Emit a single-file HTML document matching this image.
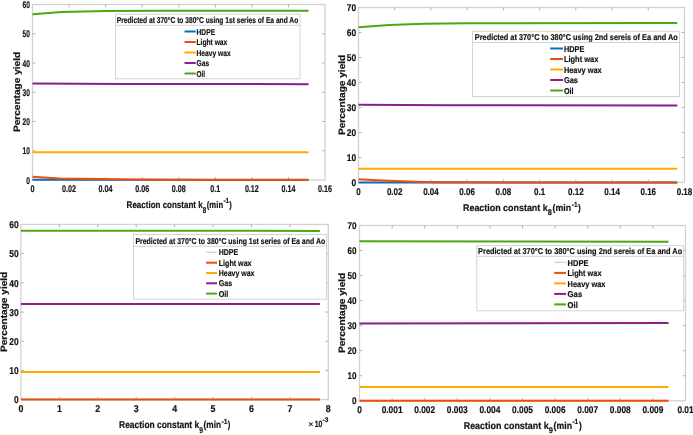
<!DOCTYPE html>
<html><head><meta charset="utf-8"><style>
html,body{margin:0;padding:0;background:#fff;}
svg{display:block;font-family:"Liberation Sans", sans-serif;will-change:transform;}
text{stroke:#141414;stroke-width:0.2px;text-rendering:geometricPrecision;}
#wrap{width:693px;height:435px;overflow:hidden;}
</style></head><body><div id="wrap">
<svg width="693" height="435" viewBox="0 0 693 435" shape-rendering="auto">
<rect width="693" height="435" fill="#fff"/>
<g>
<rect width="693" height="435" fill="#fff"/>
<rect x="32.50" y="4.50" width="292.50" height="175.50" fill="#fff" stroke="#d2d2d2" stroke-width="1.3"/>
<text x="30.00" y="183.60" font-size="9.8" font-weight="bold" fill="#141414" text-anchor="end" textLength="3.70" lengthAdjust="spacingAndGlyphs">0</text>
<line x1="32.50" y1="150.75" x2="35.50" y2="150.75" stroke="#b4b4b4" stroke-width="1"/>
<line x1="325.00" y1="150.75" x2="322.00" y2="150.75" stroke="#b4b4b4" stroke-width="1"/>
<text x="30.00" y="154.35" font-size="9.8" font-weight="bold" fill="#141414" text-anchor="end" textLength="7.40" lengthAdjust="spacingAndGlyphs">10</text>
<line x1="32.50" y1="121.50" x2="35.50" y2="121.50" stroke="#b4b4b4" stroke-width="1"/>
<line x1="325.00" y1="121.50" x2="322.00" y2="121.50" stroke="#b4b4b4" stroke-width="1"/>
<text x="30.00" y="125.10" font-size="9.8" font-weight="bold" fill="#141414" text-anchor="end" textLength="7.40" lengthAdjust="spacingAndGlyphs">20</text>
<line x1="32.50" y1="92.25" x2="35.50" y2="92.25" stroke="#b4b4b4" stroke-width="1"/>
<line x1="325.00" y1="92.25" x2="322.00" y2="92.25" stroke="#b4b4b4" stroke-width="1"/>
<text x="30.00" y="95.85" font-size="9.8" font-weight="bold" fill="#141414" text-anchor="end" textLength="7.40" lengthAdjust="spacingAndGlyphs">30</text>
<line x1="32.50" y1="63.00" x2="35.50" y2="63.00" stroke="#b4b4b4" stroke-width="1"/>
<line x1="325.00" y1="63.00" x2="322.00" y2="63.00" stroke="#b4b4b4" stroke-width="1"/>
<text x="30.00" y="66.60" font-size="9.8" font-weight="bold" fill="#141414" text-anchor="end" textLength="7.40" lengthAdjust="spacingAndGlyphs">40</text>
<line x1="32.50" y1="33.75" x2="35.50" y2="33.75" stroke="#b4b4b4" stroke-width="1"/>
<line x1="325.00" y1="33.75" x2="322.00" y2="33.75" stroke="#b4b4b4" stroke-width="1"/>
<text x="30.00" y="37.35" font-size="9.8" font-weight="bold" fill="#141414" text-anchor="end" textLength="7.40" lengthAdjust="spacingAndGlyphs">50</text>
<text x="30.00" y="8.10" font-size="9.8" font-weight="bold" fill="#141414" text-anchor="end" textLength="7.40" lengthAdjust="spacingAndGlyphs">60</text>
<text x="30.50" y="192.20" font-size="9.8" font-weight="bold" fill="#141414" textLength="4.00" lengthAdjust="spacingAndGlyphs">0</text>
<line x1="69.06" y1="180.00" x2="69.06" y2="177.00" stroke="#b4b4b4" stroke-width="1"/>
<line x1="69.06" y1="4.50" x2="69.06" y2="7.50" stroke="#b4b4b4" stroke-width="1"/>
<text x="62.06" y="192.20" font-size="9.8" font-weight="bold" fill="#141414" textLength="14.00" lengthAdjust="spacingAndGlyphs">0.02</text>
<line x1="105.62" y1="180.00" x2="105.62" y2="177.00" stroke="#b4b4b4" stroke-width="1"/>
<line x1="105.62" y1="4.50" x2="105.62" y2="7.50" stroke="#b4b4b4" stroke-width="1"/>
<text x="98.62" y="192.20" font-size="9.8" font-weight="bold" fill="#141414" textLength="14.00" lengthAdjust="spacingAndGlyphs">0.04</text>
<line x1="142.19" y1="180.00" x2="142.19" y2="177.00" stroke="#b4b4b4" stroke-width="1"/>
<line x1="142.19" y1="4.50" x2="142.19" y2="7.50" stroke="#b4b4b4" stroke-width="1"/>
<text x="135.19" y="192.20" font-size="9.8" font-weight="bold" fill="#141414" textLength="14.00" lengthAdjust="spacingAndGlyphs">0.06</text>
<line x1="178.75" y1="180.00" x2="178.75" y2="177.00" stroke="#b4b4b4" stroke-width="1"/>
<line x1="178.75" y1="4.50" x2="178.75" y2="7.50" stroke="#b4b4b4" stroke-width="1"/>
<text x="171.75" y="192.20" font-size="9.8" font-weight="bold" fill="#141414" textLength="14.00" lengthAdjust="spacingAndGlyphs">0.08</text>
<line x1="215.31" y1="180.00" x2="215.31" y2="177.00" stroke="#b4b4b4" stroke-width="1"/>
<line x1="215.31" y1="4.50" x2="215.31" y2="7.50" stroke="#b4b4b4" stroke-width="1"/>
<text x="210.31" y="192.20" font-size="9.8" font-weight="bold" fill="#141414" textLength="10.00" lengthAdjust="spacingAndGlyphs">0.1</text>
<line x1="251.88" y1="180.00" x2="251.88" y2="177.00" stroke="#b4b4b4" stroke-width="1"/>
<line x1="251.88" y1="4.50" x2="251.88" y2="7.50" stroke="#b4b4b4" stroke-width="1"/>
<text x="244.88" y="192.20" font-size="9.8" font-weight="bold" fill="#141414" textLength="14.00" lengthAdjust="spacingAndGlyphs">0.12</text>
<line x1="288.44" y1="180.00" x2="288.44" y2="177.00" stroke="#b4b4b4" stroke-width="1"/>
<line x1="288.44" y1="4.50" x2="288.44" y2="7.50" stroke="#b4b4b4" stroke-width="1"/>
<text x="281.44" y="192.20" font-size="9.8" font-weight="bold" fill="#141414" textLength="14.00" lengthAdjust="spacingAndGlyphs">0.14</text>
<text x="318.00" y="192.20" font-size="9.8" font-weight="bold" fill="#141414" textLength="14.00" lengthAdjust="spacingAndGlyphs">0.16</text>
<polyline points="32.50,179.85 308.55,179.85" fill="none" stroke="#0070c0" stroke-width="2" stroke-linejoin="round"/>
<polyline points="32.50,176.78 59.92,178.48 100.14,179.12 129.39,179.56 160.47,179.80 215.31,179.91 308.55,179.94" fill="none" stroke="#f04c0a" stroke-width="2" stroke-linejoin="round"/>
<polyline points="32.50,152.30 308.55,152.30" fill="none" stroke="#ffaa00" stroke-width="2" stroke-linejoin="round"/>
<polyline points="32.50,83.47 123.91,83.91 308.55,84.21" fill="none" stroke="#8c1e8c" stroke-width="2" stroke-linejoin="round"/>
<polyline points="32.50,14.30 61.75,12.11 105.62,11.08 160.47,10.79 308.55,10.64" fill="none" stroke="#4ea614" stroke-width="2" stroke-linejoin="round"/>
<rect x="115.50" y="14.20" width="184.50" height="64.60" fill="#fff" stroke="#d4d4d4" stroke-width="1"/>
<line x1="115.50" y1="25.30" x2="300.00" y2="25.30" stroke="#d4d4d4" stroke-width="1"/>
<text x="116.80" y="22.90" font-size="8.5" font-weight="bold" fill="#141414" textLength="181.40" lengthAdjust="spacingAndGlyphs">Predicted at 370°C to 380°C using 1st series of Ea and Ao</text>
<line x1="184.50" y1="31.50" x2="195.70" y2="31.50" stroke="#0070c0" stroke-width="2"/>
<text x="196.50" y="34.70" font-size="8.5" font-weight="bold" fill="#141414" textLength="18.60" lengthAdjust="spacingAndGlyphs">HDPE</text>
<line x1="184.50" y1="42.00" x2="195.70" y2="42.00" stroke="#f04c0a" stroke-width="2"/>
<text x="196.50" y="45.20" font-size="8.5" font-weight="bold" fill="#141414" textLength="30.80" lengthAdjust="spacingAndGlyphs">Light wax</text>
<line x1="184.50" y1="52.50" x2="195.70" y2="52.50" stroke="#ffaa00" stroke-width="2"/>
<text x="196.50" y="55.70" font-size="8.5" font-weight="bold" fill="#141414" textLength="34.20" lengthAdjust="spacingAndGlyphs">Heavy wax</text>
<line x1="184.50" y1="63.00" x2="195.70" y2="63.00" stroke="#8c1e8c" stroke-width="2"/>
<text x="196.50" y="66.20" font-size="8.5" font-weight="bold" fill="#141414" textLength="12.60" lengthAdjust="spacingAndGlyphs">Gas</text>
<line x1="184.50" y1="73.50" x2="195.70" y2="73.50" stroke="#4ea614" stroke-width="2"/>
<text x="196.50" y="76.70" font-size="8.5" font-weight="bold" fill="#141414" textLength="8.60" lengthAdjust="spacingAndGlyphs">Oil</text>
<text transform="translate(19.60,132.00) rotate(-90)" x="0" y="0" font-size="9.3" font-weight="bold" fill="#141414" textLength="80.10" lengthAdjust="spacingAndGlyphs">Percentage yield</text>
<text x="126.60" y="207.90" font-size="9.7" font-weight="bold" fill="#141414" textLength="76.10" lengthAdjust="spacingAndGlyphs">Reaction constant k</text>
<text x="202.70" y="212.60" font-size="8.4" font-weight="bold" fill="#141414" textLength="3.50" lengthAdjust="spacingAndGlyphs">8</text>
<text x="206.80" y="207.90" font-size="9.7" font-weight="bold" fill="#141414" textLength="16.30" lengthAdjust="spacingAndGlyphs">(min</text>
<text x="223.40" y="203.10" font-size="7.4" font-weight="bold" fill="#141414" textLength="5.60" lengthAdjust="spacingAndGlyphs">-1</text>
<text x="229.30" y="207.90" font-size="9.7" font-weight="bold" fill="#141414" textLength="2.50" lengthAdjust="spacingAndGlyphs">)</text>
<rect x="358.50" y="7.50" width="326.00" height="175.00" fill="#fff" stroke="#d2d2d2" stroke-width="1.3"/>
<text x="356.20" y="186.10" font-size="9.8" font-weight="bold" fill="#141414" text-anchor="end" textLength="4.70" lengthAdjust="spacingAndGlyphs">0</text>
<line x1="358.50" y1="157.50" x2="361.50" y2="157.50" stroke="#b4b4b4" stroke-width="1"/>
<line x1="684.50" y1="157.50" x2="681.50" y2="157.50" stroke="#b4b4b4" stroke-width="1"/>
<text x="356.20" y="161.10" font-size="9.8" font-weight="bold" fill="#141414" text-anchor="end" textLength="9.40" lengthAdjust="spacingAndGlyphs">10</text>
<line x1="358.50" y1="132.50" x2="361.50" y2="132.50" stroke="#b4b4b4" stroke-width="1"/>
<line x1="684.50" y1="132.50" x2="681.50" y2="132.50" stroke="#b4b4b4" stroke-width="1"/>
<text x="356.20" y="136.10" font-size="9.8" font-weight="bold" fill="#141414" text-anchor="end" textLength="9.40" lengthAdjust="spacingAndGlyphs">20</text>
<line x1="358.50" y1="107.50" x2="361.50" y2="107.50" stroke="#b4b4b4" stroke-width="1"/>
<line x1="684.50" y1="107.50" x2="681.50" y2="107.50" stroke="#b4b4b4" stroke-width="1"/>
<text x="356.20" y="111.10" font-size="9.8" font-weight="bold" fill="#141414" text-anchor="end" textLength="9.40" lengthAdjust="spacingAndGlyphs">30</text>
<line x1="358.50" y1="82.50" x2="361.50" y2="82.50" stroke="#b4b4b4" stroke-width="1"/>
<line x1="684.50" y1="82.50" x2="681.50" y2="82.50" stroke="#b4b4b4" stroke-width="1"/>
<text x="356.20" y="86.10" font-size="9.8" font-weight="bold" fill="#141414" text-anchor="end" textLength="9.40" lengthAdjust="spacingAndGlyphs">40</text>
<line x1="358.50" y1="57.50" x2="361.50" y2="57.50" stroke="#b4b4b4" stroke-width="1"/>
<line x1="684.50" y1="57.50" x2="681.50" y2="57.50" stroke="#b4b4b4" stroke-width="1"/>
<text x="356.20" y="61.10" font-size="9.8" font-weight="bold" fill="#141414" text-anchor="end" textLength="9.40" lengthAdjust="spacingAndGlyphs">50</text>
<line x1="358.50" y1="32.50" x2="361.50" y2="32.50" stroke="#b4b4b4" stroke-width="1"/>
<line x1="684.50" y1="32.50" x2="681.50" y2="32.50" stroke="#b4b4b4" stroke-width="1"/>
<text x="356.20" y="36.10" font-size="9.8" font-weight="bold" fill="#141414" text-anchor="end" textLength="9.40" lengthAdjust="spacingAndGlyphs">60</text>
<text x="356.20" y="11.10" font-size="9.8" font-weight="bold" fill="#141414" text-anchor="end" textLength="9.40" lengthAdjust="spacingAndGlyphs">70</text>
<text x="356.27" y="195.30" font-size="9.8" font-weight="bold" fill="#141414" textLength="4.45" lengthAdjust="spacingAndGlyphs">0</text>
<line x1="394.72" y1="182.50" x2="394.72" y2="179.50" stroke="#b4b4b4" stroke-width="1"/>
<line x1="394.72" y1="7.50" x2="394.72" y2="10.50" stroke="#b4b4b4" stroke-width="1"/>
<text x="386.92" y="195.30" font-size="9.8" font-weight="bold" fill="#141414" textLength="15.60" lengthAdjust="spacingAndGlyphs">0.02</text>
<line x1="430.94" y1="182.50" x2="430.94" y2="179.50" stroke="#b4b4b4" stroke-width="1"/>
<line x1="430.94" y1="7.50" x2="430.94" y2="10.50" stroke="#b4b4b4" stroke-width="1"/>
<text x="423.14" y="195.30" font-size="9.8" font-weight="bold" fill="#141414" textLength="15.60" lengthAdjust="spacingAndGlyphs">0.04</text>
<line x1="467.17" y1="182.50" x2="467.17" y2="179.50" stroke="#b4b4b4" stroke-width="1"/>
<line x1="467.17" y1="7.50" x2="467.17" y2="10.50" stroke="#b4b4b4" stroke-width="1"/>
<text x="459.37" y="195.30" font-size="9.8" font-weight="bold" fill="#141414" textLength="15.60" lengthAdjust="spacingAndGlyphs">0.06</text>
<line x1="503.39" y1="182.50" x2="503.39" y2="179.50" stroke="#b4b4b4" stroke-width="1"/>
<line x1="503.39" y1="7.50" x2="503.39" y2="10.50" stroke="#b4b4b4" stroke-width="1"/>
<text x="495.59" y="195.30" font-size="9.8" font-weight="bold" fill="#141414" textLength="15.60" lengthAdjust="spacingAndGlyphs">0.08</text>
<line x1="539.61" y1="182.50" x2="539.61" y2="179.50" stroke="#b4b4b4" stroke-width="1"/>
<line x1="539.61" y1="7.50" x2="539.61" y2="10.50" stroke="#b4b4b4" stroke-width="1"/>
<text x="534.04" y="195.30" font-size="9.8" font-weight="bold" fill="#141414" textLength="11.15" lengthAdjust="spacingAndGlyphs">0.1</text>
<line x1="575.83" y1="182.50" x2="575.83" y2="179.50" stroke="#b4b4b4" stroke-width="1"/>
<line x1="575.83" y1="7.50" x2="575.83" y2="10.50" stroke="#b4b4b4" stroke-width="1"/>
<text x="568.03" y="195.30" font-size="9.8" font-weight="bold" fill="#141414" textLength="15.60" lengthAdjust="spacingAndGlyphs">0.12</text>
<line x1="612.06" y1="182.50" x2="612.06" y2="179.50" stroke="#b4b4b4" stroke-width="1"/>
<line x1="612.06" y1="7.50" x2="612.06" y2="10.50" stroke="#b4b4b4" stroke-width="1"/>
<text x="604.26" y="195.30" font-size="9.8" font-weight="bold" fill="#141414" textLength="15.60" lengthAdjust="spacingAndGlyphs">0.14</text>
<line x1="648.28" y1="182.50" x2="648.28" y2="179.50" stroke="#b4b4b4" stroke-width="1"/>
<line x1="648.28" y1="7.50" x2="648.28" y2="10.50" stroke="#b4b4b4" stroke-width="1"/>
<text x="640.48" y="195.30" font-size="9.8" font-weight="bold" fill="#141414" textLength="15.60" lengthAdjust="spacingAndGlyphs">0.16</text>
<text x="676.70" y="195.30" font-size="9.8" font-weight="bold" fill="#141414" textLength="15.60" lengthAdjust="spacingAndGlyphs">0.18</text>
<polyline points="358.50,182.38 677.26,182.38" fill="none" stroke="#0070c0" stroke-width="2" stroke-linejoin="round"/>
<polyline points="358.50,179.20 376.61,180.18 394.72,181.10 414.64,181.80 440.00,182.15 467.17,182.30 521.50,182.40 677.26,182.45" fill="none" stroke="#f04c0a" stroke-width="2" stroke-linejoin="round"/>
<polyline points="358.50,168.75 677.26,168.75" fill="none" stroke="#ffaa00" stroke-width="2" stroke-linejoin="round"/>
<polyline points="358.50,104.75 449.06,105.25 677.26,105.55" fill="none" stroke="#8c1e8c" stroke-width="2" stroke-linejoin="round"/>
<polyline points="358.50,27.25 389.29,24.88 423.70,23.75 467.17,23.25 677.26,23.00" fill="none" stroke="#4ea614" stroke-width="2" stroke-linejoin="round"/>
<rect x="472.50" y="31.30" width="207.00" height="65.20" fill="#fff" stroke="#d4d4d4" stroke-width="1"/>
<line x1="472.50" y1="42.50" x2="679.50" y2="42.50" stroke="#d4d4d4" stroke-width="1"/>
<text x="474.80" y="40.30" font-size="8.5" font-weight="bold" fill="#141414" textLength="203.00" lengthAdjust="spacingAndGlyphs">Predicted at 370°C to 380°C using 2nd sereis of Ea and Ao</text>
<line x1="550.20" y1="48.50" x2="563.00" y2="48.50" stroke="#0070c0" stroke-width="2"/>
<text x="563.90" y="51.80" font-size="8.5" font-weight="bold" fill="#141414" textLength="20.40" lengthAdjust="spacingAndGlyphs">HDPE</text>
<line x1="550.20" y1="59.00" x2="563.00" y2="59.00" stroke="#f04c0a" stroke-width="2"/>
<text x="563.90" y="62.30" font-size="8.5" font-weight="bold" fill="#141414" textLength="34.40" lengthAdjust="spacingAndGlyphs">Light wax</text>
<line x1="550.20" y1="69.50" x2="563.00" y2="69.50" stroke="#ffaa00" stroke-width="2"/>
<text x="563.90" y="72.80" font-size="8.5" font-weight="bold" fill="#141414" textLength="37.70" lengthAdjust="spacingAndGlyphs">Heavy wax</text>
<line x1="550.20" y1="80.00" x2="563.00" y2="80.00" stroke="#8c1e8c" stroke-width="2"/>
<text x="563.90" y="83.30" font-size="8.5" font-weight="bold" fill="#141414" textLength="14.10" lengthAdjust="spacingAndGlyphs">Gas</text>
<line x1="550.20" y1="90.50" x2="563.00" y2="90.50" stroke="#4ea614" stroke-width="2"/>
<text x="563.90" y="93.80" font-size="8.5" font-weight="bold" fill="#141414" textLength="9.60" lengthAdjust="spacingAndGlyphs">Oil</text>
<text transform="translate(344.60,135.10) rotate(-90)" x="0" y="0" font-size="9.3" font-weight="bold" fill="#141414" textLength="80.40" lengthAdjust="spacingAndGlyphs">Percentage yield</text>
<text x="463.00" y="210.60" font-size="9.7" font-weight="bold" fill="#141414" textLength="84.70" lengthAdjust="spacingAndGlyphs">Reaction constant k</text>
<text x="547.70" y="215.30" font-size="8.4" font-weight="bold" fill="#141414" textLength="4.10" lengthAdjust="spacingAndGlyphs">8</text>
<text x="552.50" y="210.60" font-size="9.7" font-weight="bold" fill="#141414" textLength="18.50" lengthAdjust="spacingAndGlyphs">(min</text>
<text x="571.80" y="206.80" font-size="7.4" font-weight="bold" fill="#141414" textLength="5.80" lengthAdjust="spacingAndGlyphs">-1</text>
<text x="577.90" y="210.60" font-size="9.7" font-weight="bold" fill="#141414" textLength="2.70" lengthAdjust="spacingAndGlyphs">)</text>
<rect x="20.90" y="224.50" width="307.40" height="175.10" fill="#fff" stroke="#d2d2d2" stroke-width="1.3"/>
<text x="18.60" y="403.30" font-size="10.0" font-weight="bold" fill="#141414" text-anchor="end" textLength="4.70" lengthAdjust="spacingAndGlyphs">0</text>
<line x1="20.90" y1="370.42" x2="23.90" y2="370.42" stroke="#b4b4b4" stroke-width="1"/>
<line x1="328.30" y1="370.42" x2="325.30" y2="370.42" stroke="#b4b4b4" stroke-width="1"/>
<text x="18.60" y="374.12" font-size="10.0" font-weight="bold" fill="#141414" text-anchor="end" textLength="9.40" lengthAdjust="spacingAndGlyphs">10</text>
<line x1="20.90" y1="341.23" x2="23.90" y2="341.23" stroke="#b4b4b4" stroke-width="1"/>
<line x1="328.30" y1="341.23" x2="325.30" y2="341.23" stroke="#b4b4b4" stroke-width="1"/>
<text x="18.60" y="344.93" font-size="10.0" font-weight="bold" fill="#141414" text-anchor="end" textLength="9.40" lengthAdjust="spacingAndGlyphs">20</text>
<line x1="20.90" y1="312.05" x2="23.90" y2="312.05" stroke="#b4b4b4" stroke-width="1"/>
<line x1="328.30" y1="312.05" x2="325.30" y2="312.05" stroke="#b4b4b4" stroke-width="1"/>
<text x="18.60" y="315.75" font-size="10.0" font-weight="bold" fill="#141414" text-anchor="end" textLength="9.40" lengthAdjust="spacingAndGlyphs">30</text>
<line x1="20.90" y1="282.87" x2="23.90" y2="282.87" stroke="#b4b4b4" stroke-width="1"/>
<line x1="328.30" y1="282.87" x2="325.30" y2="282.87" stroke="#b4b4b4" stroke-width="1"/>
<text x="18.60" y="286.57" font-size="10.0" font-weight="bold" fill="#141414" text-anchor="end" textLength="9.40" lengthAdjust="spacingAndGlyphs">40</text>
<line x1="20.90" y1="253.68" x2="23.90" y2="253.68" stroke="#b4b4b4" stroke-width="1"/>
<line x1="328.30" y1="253.68" x2="325.30" y2="253.68" stroke="#b4b4b4" stroke-width="1"/>
<text x="18.60" y="257.38" font-size="10.0" font-weight="bold" fill="#141414" text-anchor="end" textLength="9.40" lengthAdjust="spacingAndGlyphs">50</text>
<text x="18.60" y="228.20" font-size="10.0" font-weight="bold" fill="#141414" text-anchor="end" textLength="9.40" lengthAdjust="spacingAndGlyphs">60</text>
<text x="18.45" y="412.00" font-size="10.0" font-weight="bold" fill="#141414" textLength="4.90" lengthAdjust="spacingAndGlyphs">0</text>
<line x1="59.33" y1="399.60" x2="59.33" y2="396.60" stroke="#b4b4b4" stroke-width="1"/>
<line x1="59.33" y1="224.50" x2="59.33" y2="227.50" stroke="#b4b4b4" stroke-width="1"/>
<text x="56.88" y="412.00" font-size="10.0" font-weight="bold" fill="#141414" textLength="4.90" lengthAdjust="spacingAndGlyphs">1</text>
<line x1="97.75" y1="399.60" x2="97.75" y2="396.60" stroke="#b4b4b4" stroke-width="1"/>
<line x1="97.75" y1="224.50" x2="97.75" y2="227.50" stroke="#b4b4b4" stroke-width="1"/>
<text x="95.30" y="412.00" font-size="10.0" font-weight="bold" fill="#141414" textLength="4.90" lengthAdjust="spacingAndGlyphs">2</text>
<line x1="136.18" y1="399.60" x2="136.18" y2="396.60" stroke="#b4b4b4" stroke-width="1"/>
<line x1="136.18" y1="224.50" x2="136.18" y2="227.50" stroke="#b4b4b4" stroke-width="1"/>
<text x="133.73" y="412.00" font-size="10.0" font-weight="bold" fill="#141414" textLength="4.90" lengthAdjust="spacingAndGlyphs">3</text>
<line x1="174.60" y1="399.60" x2="174.60" y2="396.60" stroke="#b4b4b4" stroke-width="1"/>
<line x1="174.60" y1="224.50" x2="174.60" y2="227.50" stroke="#b4b4b4" stroke-width="1"/>
<text x="172.15" y="412.00" font-size="10.0" font-weight="bold" fill="#141414" textLength="4.90" lengthAdjust="spacingAndGlyphs">4</text>
<line x1="213.03" y1="399.60" x2="213.03" y2="396.60" stroke="#b4b4b4" stroke-width="1"/>
<line x1="213.03" y1="224.50" x2="213.03" y2="227.50" stroke="#b4b4b4" stroke-width="1"/>
<text x="210.58" y="412.00" font-size="10.0" font-weight="bold" fill="#141414" textLength="4.90" lengthAdjust="spacingAndGlyphs">5</text>
<line x1="251.45" y1="399.60" x2="251.45" y2="396.60" stroke="#b4b4b4" stroke-width="1"/>
<line x1="251.45" y1="224.50" x2="251.45" y2="227.50" stroke="#b4b4b4" stroke-width="1"/>
<text x="249.00" y="412.00" font-size="10.0" font-weight="bold" fill="#141414" textLength="4.90" lengthAdjust="spacingAndGlyphs">6</text>
<line x1="289.88" y1="399.60" x2="289.88" y2="396.60" stroke="#b4b4b4" stroke-width="1"/>
<line x1="289.88" y1="224.50" x2="289.88" y2="227.50" stroke="#b4b4b4" stroke-width="1"/>
<text x="287.43" y="412.00" font-size="10.0" font-weight="bold" fill="#141414" textLength="4.90" lengthAdjust="spacingAndGlyphs">7</text>
<text x="325.85" y="412.00" font-size="10.0" font-weight="bold" fill="#141414" textLength="4.90" lengthAdjust="spacingAndGlyphs">8</text>
<polyline points="20.90,399.45 319.85,399.45" fill="none" stroke="#b4dbe2" stroke-width="2" stroke-linejoin="round"/>
<polyline points="20.90,399.45 319.85,399.45" fill="none" stroke="#f04c0a" stroke-width="2" stroke-linejoin="round"/>
<polyline points="20.90,371.91 319.85,371.91" fill="none" stroke="#ffaa00" stroke-width="2" stroke-linejoin="round"/>
<polyline points="20.90,304.02 319.85,303.88" fill="none" stroke="#8c1e8c" stroke-width="2" stroke-linejoin="round"/>
<polyline points="20.90,230.63 319.85,230.92" fill="none" stroke="#4ea614" stroke-width="2" stroke-linejoin="round"/>
<rect x="133.50" y="234.50" width="193.00" height="64.70" fill="#fff" stroke="#d4d4d4" stroke-width="1"/>
<line x1="133.50" y1="246.30" x2="326.50" y2="246.30" stroke="#d4d4d4" stroke-width="1"/>
<text x="135.40" y="243.80" font-size="8.5" font-weight="bold" fill="#141414" textLength="189.80" lengthAdjust="spacingAndGlyphs">Predicted at 370°C to 380°C using 1st series of Ea and Ao</text>
<line x1="206.10" y1="252.30" x2="217.00" y2="252.30" stroke="#b4dbe2" stroke-width="1.2"/>
<text x="218.70" y="255.30" font-size="8.5" font-weight="bold" fill="#141414" textLength="19.40" lengthAdjust="spacingAndGlyphs">HDPE</text>
<line x1="206.10" y1="262.70" x2="217.00" y2="262.70" stroke="#f04c0a" stroke-width="2"/>
<text x="218.70" y="265.70" font-size="8.5" font-weight="bold" fill="#141414" textLength="32.90" lengthAdjust="spacingAndGlyphs">Light wax</text>
<line x1="206.10" y1="273.00" x2="217.00" y2="273.00" stroke="#ffaa00" stroke-width="2"/>
<text x="218.70" y="276.00" font-size="8.5" font-weight="bold" fill="#141414" textLength="35.80" lengthAdjust="spacingAndGlyphs">Heavy wax</text>
<line x1="206.10" y1="283.30" x2="217.00" y2="283.30" stroke="#8c1e8c" stroke-width="2"/>
<text x="218.70" y="286.30" font-size="8.5" font-weight="bold" fill="#141414" textLength="13.40" lengthAdjust="spacingAndGlyphs">Gas</text>
<line x1="206.10" y1="293.60" x2="217.00" y2="293.60" stroke="#4ea614" stroke-width="2"/>
<text x="218.70" y="296.60" font-size="8.5" font-weight="bold" fill="#141414" textLength="9.60" lengthAdjust="spacingAndGlyphs">Oil</text>
<text transform="translate(6.90,352.00) rotate(-90)" x="0" y="0" font-size="9.3" font-weight="bold" fill="#141414" textLength="80.30" lengthAdjust="spacingAndGlyphs">Percentage yield</text>
<text x="119.10" y="427.90" font-size="9.9" font-weight="bold" fill="#141414" textLength="80.10" lengthAdjust="spacingAndGlyphs">Reaction constant k</text>
<text x="199.20" y="432.60" font-size="8.4" font-weight="bold" fill="#141414" textLength="3.80" lengthAdjust="spacingAndGlyphs">9</text>
<text x="203.50" y="427.90" font-size="9.9" font-weight="bold" fill="#141414" textLength="17.50" lengthAdjust="spacingAndGlyphs">(min</text>
<text x="221.60" y="423.70" font-size="7.4" font-weight="bold" fill="#141414" textLength="6.00" lengthAdjust="spacingAndGlyphs">-1</text>
<text x="227.80" y="427.90" font-size="9.9" font-weight="bold" fill="#141414" textLength="2.60" lengthAdjust="spacingAndGlyphs">)</text>
<rect x="359.50" y="225.50" width="326.00" height="175.30" fill="#fff" stroke="#d2d2d2" stroke-width="1.3"/>
<text x="356.50" y="404.40" font-size="9.8" font-weight="bold" fill="#141414" text-anchor="end" textLength="4.50" lengthAdjust="spacingAndGlyphs">0</text>
<line x1="359.50" y1="375.76" x2="362.50" y2="375.76" stroke="#b4b4b4" stroke-width="1"/>
<line x1="685.50" y1="375.76" x2="682.50" y2="375.76" stroke="#b4b4b4" stroke-width="1"/>
<text x="356.50" y="379.36" font-size="9.8" font-weight="bold" fill="#141414" text-anchor="end" textLength="9.00" lengthAdjust="spacingAndGlyphs">10</text>
<line x1="359.50" y1="350.71" x2="362.50" y2="350.71" stroke="#b4b4b4" stroke-width="1"/>
<line x1="685.50" y1="350.71" x2="682.50" y2="350.71" stroke="#b4b4b4" stroke-width="1"/>
<text x="356.50" y="354.31" font-size="9.8" font-weight="bold" fill="#141414" text-anchor="end" textLength="9.00" lengthAdjust="spacingAndGlyphs">20</text>
<line x1="359.50" y1="325.67" x2="362.50" y2="325.67" stroke="#b4b4b4" stroke-width="1"/>
<line x1="685.50" y1="325.67" x2="682.50" y2="325.67" stroke="#b4b4b4" stroke-width="1"/>
<text x="356.50" y="329.27" font-size="9.8" font-weight="bold" fill="#141414" text-anchor="end" textLength="9.00" lengthAdjust="spacingAndGlyphs">30</text>
<line x1="359.50" y1="300.63" x2="362.50" y2="300.63" stroke="#b4b4b4" stroke-width="1"/>
<line x1="685.50" y1="300.63" x2="682.50" y2="300.63" stroke="#b4b4b4" stroke-width="1"/>
<text x="356.50" y="304.23" font-size="9.8" font-weight="bold" fill="#141414" text-anchor="end" textLength="9.00" lengthAdjust="spacingAndGlyphs">40</text>
<line x1="359.50" y1="275.59" x2="362.50" y2="275.59" stroke="#b4b4b4" stroke-width="1"/>
<line x1="685.50" y1="275.59" x2="682.50" y2="275.59" stroke="#b4b4b4" stroke-width="1"/>
<text x="356.50" y="279.19" font-size="9.8" font-weight="bold" fill="#141414" text-anchor="end" textLength="9.00" lengthAdjust="spacingAndGlyphs">50</text>
<line x1="359.50" y1="250.54" x2="362.50" y2="250.54" stroke="#b4b4b4" stroke-width="1"/>
<line x1="685.50" y1="250.54" x2="682.50" y2="250.54" stroke="#b4b4b4" stroke-width="1"/>
<text x="356.50" y="254.14" font-size="9.8" font-weight="bold" fill="#141414" text-anchor="end" textLength="9.00" lengthAdjust="spacingAndGlyphs">60</text>
<text x="356.50" y="229.10" font-size="9.8" font-weight="bold" fill="#141414" text-anchor="end" textLength="9.00" lengthAdjust="spacingAndGlyphs">70</text>
<text x="357.18" y="413.00" font-size="9.8" font-weight="bold" fill="#141414" textLength="4.65" lengthAdjust="spacingAndGlyphs">0</text>
<line x1="392.10" y1="400.80" x2="392.10" y2="397.80" stroke="#b4b4b4" stroke-width="1"/>
<line x1="392.10" y1="225.50" x2="392.10" y2="228.50" stroke="#b4b4b4" stroke-width="1"/>
<text x="381.65" y="413.00" font-size="9.8" font-weight="bold" fill="#141414" textLength="20.90" lengthAdjust="spacingAndGlyphs">0.001</text>
<line x1="424.70" y1="400.80" x2="424.70" y2="397.80" stroke="#b4b4b4" stroke-width="1"/>
<line x1="424.70" y1="225.50" x2="424.70" y2="228.50" stroke="#b4b4b4" stroke-width="1"/>
<text x="414.25" y="413.00" font-size="9.8" font-weight="bold" fill="#141414" textLength="20.90" lengthAdjust="spacingAndGlyphs">0.002</text>
<line x1="457.30" y1="400.80" x2="457.30" y2="397.80" stroke="#b4b4b4" stroke-width="1"/>
<line x1="457.30" y1="225.50" x2="457.30" y2="228.50" stroke="#b4b4b4" stroke-width="1"/>
<text x="446.85" y="413.00" font-size="9.8" font-weight="bold" fill="#141414" textLength="20.90" lengthAdjust="spacingAndGlyphs">0.003</text>
<line x1="489.90" y1="400.80" x2="489.90" y2="397.80" stroke="#b4b4b4" stroke-width="1"/>
<line x1="489.90" y1="225.50" x2="489.90" y2="228.50" stroke="#b4b4b4" stroke-width="1"/>
<text x="479.45" y="413.00" font-size="9.8" font-weight="bold" fill="#141414" textLength="20.90" lengthAdjust="spacingAndGlyphs">0.004</text>
<line x1="522.50" y1="400.80" x2="522.50" y2="397.80" stroke="#b4b4b4" stroke-width="1"/>
<line x1="522.50" y1="225.50" x2="522.50" y2="228.50" stroke="#b4b4b4" stroke-width="1"/>
<text x="512.05" y="413.00" font-size="9.8" font-weight="bold" fill="#141414" textLength="20.90" lengthAdjust="spacingAndGlyphs">0.005</text>
<line x1="555.10" y1="400.80" x2="555.10" y2="397.80" stroke="#b4b4b4" stroke-width="1"/>
<line x1="555.10" y1="225.50" x2="555.10" y2="228.50" stroke="#b4b4b4" stroke-width="1"/>
<text x="544.65" y="413.00" font-size="9.8" font-weight="bold" fill="#141414" textLength="20.90" lengthAdjust="spacingAndGlyphs">0.006</text>
<line x1="587.70" y1="400.80" x2="587.70" y2="397.80" stroke="#b4b4b4" stroke-width="1"/>
<line x1="587.70" y1="225.50" x2="587.70" y2="228.50" stroke="#b4b4b4" stroke-width="1"/>
<text x="577.25" y="413.00" font-size="9.8" font-weight="bold" fill="#141414" textLength="20.90" lengthAdjust="spacingAndGlyphs">0.007</text>
<line x1="620.30" y1="400.80" x2="620.30" y2="397.80" stroke="#b4b4b4" stroke-width="1"/>
<line x1="620.30" y1="225.50" x2="620.30" y2="228.50" stroke="#b4b4b4" stroke-width="1"/>
<text x="609.85" y="413.00" font-size="9.8" font-weight="bold" fill="#141414" textLength="20.90" lengthAdjust="spacingAndGlyphs">0.008</text>
<line x1="652.90" y1="400.80" x2="652.90" y2="397.80" stroke="#b4b4b4" stroke-width="1"/>
<line x1="652.90" y1="225.50" x2="652.90" y2="228.50" stroke="#b4b4b4" stroke-width="1"/>
<text x="642.45" y="413.00" font-size="9.8" font-weight="bold" fill="#141414" textLength="20.90" lengthAdjust="spacingAndGlyphs">0.009</text>
<text x="677.38" y="413.00" font-size="9.8" font-weight="bold" fill="#141414" textLength="16.25" lengthAdjust="spacingAndGlyphs">0.01</text>
<polyline points="359.50,400.67 668.55,400.67" fill="none" stroke="#b4dbe2" stroke-width="2" stroke-linejoin="round"/>
<polyline points="359.50,400.67 668.55,400.67" fill="none" stroke="#f04c0a" stroke-width="2" stroke-linejoin="round"/>
<polyline points="359.50,387.03 668.55,387.03" fill="none" stroke="#ffaa00" stroke-width="2" stroke-linejoin="round"/>
<polyline points="359.50,323.54 668.55,323.09" fill="none" stroke="#8c1e8c" stroke-width="2" stroke-linejoin="round"/>
<polyline points="359.50,241.28 668.55,241.78" fill="none" stroke="#4ea614" stroke-width="2" stroke-linejoin="round"/>
<rect x="476.80" y="245.60" width="206.80" height="65.20" fill="#fff" stroke="#d4d4d4" stroke-width="1"/>
<line x1="476.80" y1="256.30" x2="683.60" y2="256.30" stroke="#d4d4d4" stroke-width="1"/>
<text x="478.10" y="253.90" font-size="8.5" font-weight="bold" fill="#141414" textLength="204.10" lengthAdjust="spacingAndGlyphs">Predicted at 370°C to 380°C using 2nd sereis of Ea and Ao</text>
<line x1="554.20" y1="262.40" x2="566.00" y2="262.40" stroke="#b4dbe2" stroke-width="1.2"/>
<text x="567.60" y="265.60" font-size="8.5" font-weight="bold" fill="#141414" textLength="20.80" lengthAdjust="spacingAndGlyphs">HDPE</text>
<line x1="554.20" y1="272.90" x2="566.00" y2="272.90" stroke="#f04c0a" stroke-width="2"/>
<text x="567.60" y="276.10" font-size="8.5" font-weight="bold" fill="#141414" textLength="33.90" lengthAdjust="spacingAndGlyphs">Light wax</text>
<line x1="554.20" y1="283.40" x2="566.00" y2="283.40" stroke="#ffaa00" stroke-width="2"/>
<text x="567.60" y="286.60" font-size="8.5" font-weight="bold" fill="#141414" textLength="37.80" lengthAdjust="spacingAndGlyphs">Heavy wax</text>
<line x1="554.20" y1="293.90" x2="566.00" y2="293.90" stroke="#8c1e8c" stroke-width="2"/>
<text x="567.60" y="297.10" font-size="8.5" font-weight="bold" fill="#141414" textLength="14.60" lengthAdjust="spacingAndGlyphs">Gas</text>
<line x1="554.20" y1="304.40" x2="566.00" y2="304.40" stroke="#4ea614" stroke-width="2"/>
<text x="567.60" y="307.60" font-size="8.5" font-weight="bold" fill="#141414" textLength="10.20" lengthAdjust="spacingAndGlyphs">Oil</text>
<text transform="translate(344.60,353.10) rotate(-90)" x="0" y="0" font-size="9.3" font-weight="bold" fill="#141414" textLength="80.40" lengthAdjust="spacingAndGlyphs">Percentage yield</text>
<text x="463.70" y="428.60" font-size="9.9" font-weight="bold" fill="#141414" textLength="85.00" lengthAdjust="spacingAndGlyphs">Reaction constant k</text>
<text x="548.70" y="433.40" font-size="8.4" font-weight="bold" fill="#141414" textLength="4.20" lengthAdjust="spacingAndGlyphs">9</text>
<text x="553.60" y="428.60" font-size="9.9" font-weight="bold" fill="#141414" textLength="18.40" lengthAdjust="spacingAndGlyphs">(min</text>
<text x="572.40" y="423.70" font-size="7.4" font-weight="bold" fill="#141414" textLength="5.90" lengthAdjust="spacingAndGlyphs">-1</text>
<text x="579.00" y="428.60" font-size="9.9" font-weight="bold" fill="#141414" textLength="2.80" lengthAdjust="spacingAndGlyphs">)</text>
<text x="308.30" y="426.60" font-size="8.5" font-weight="normal" fill="#141414" textLength="5.20" lengthAdjust="spacingAndGlyphs">×</text>
<text x="314.80" y="426.60" font-size="9.0" font-weight="bold" fill="#141414" textLength="7.60" lengthAdjust="spacingAndGlyphs">10</text>
<text x="322.60" y="422.20" font-size="6.8" font-weight="bold" fill="#141414" textLength="5.80" lengthAdjust="spacingAndGlyphs">-3</text>
</g>
</svg></div></body></html>
